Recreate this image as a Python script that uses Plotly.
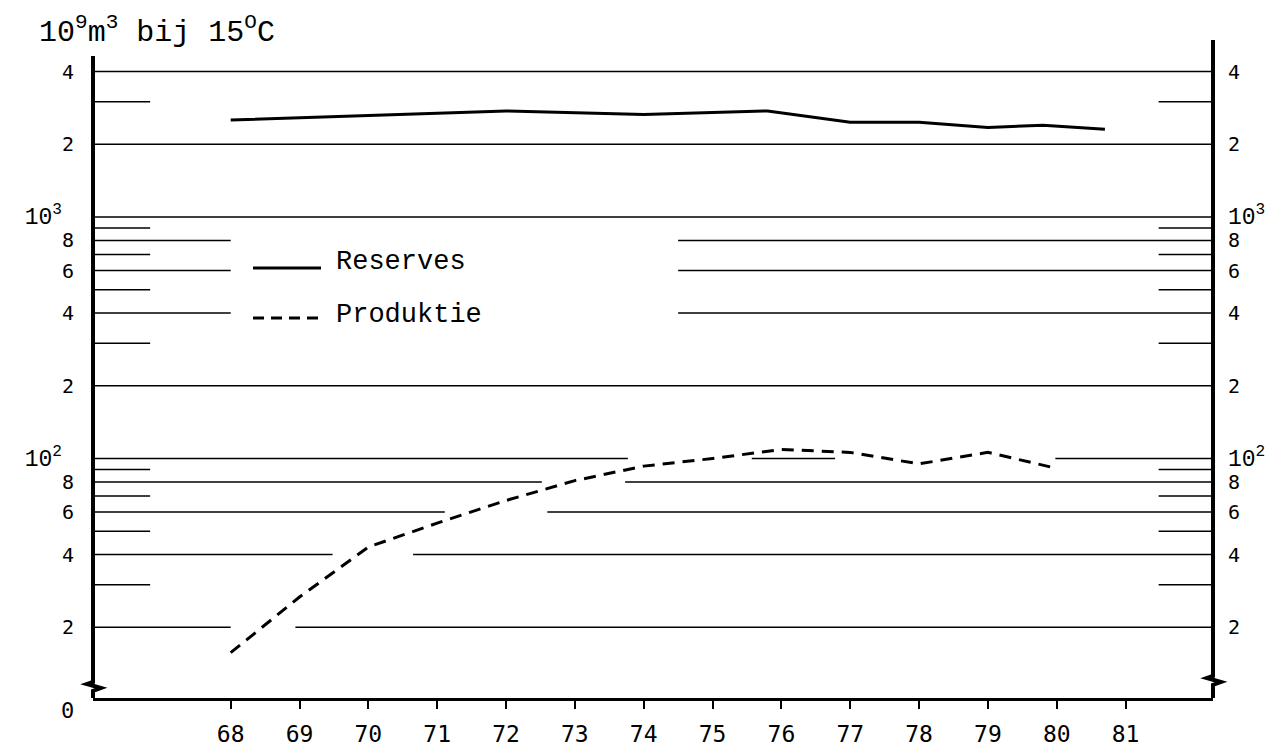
import plotly.graph_objects as go

# ---------------- data ----------------
years_reserves = [68, 72, 74, 75.8, 77, 78, 79, 79.8, 80.7]
reserves = [2520, 2750, 2660, 2750, 2470, 2470, 2350, 2400, 2310]

years_production = [68, 69, 70, 71, 72, 73, 74, 75, 76, 77, 78, 79, 80]
production = [15.7, 26.7, 43, 54, 67, 81, 93, 100, 109, 106, 95, 106, 91]

x_ticks = [68, 69, 70, 71, 72, 73, 74, 75, 76, 77, 78, 79, 80, 81]
y_ticks = [20, 40, 60, 80, 100, 200, 400, 600, 800, 1000, 2000, 4000]
MONO = "Liberation Mono"
DEC = "<span style='font-family:Liberation Mono;font-size:23px'>10<sup>{}</sup></span>"
y_labels_left = ["2", "4", "6", "8", DEC.format(2) + "&nbsp;",
                 "2", "4", "6", "8", DEC.format(3) + "&nbsp;",
                 "2", "4"]
y_labels_right = ["2", "4", "6", "8", DEC.format(2),
                  "2", "4", "6", "8", DEC.format(3),
                  "2", "4"]

# horizontal rule segments (value, [(x0, x1), ...]) in axis units
XL, XR = 66.0, 82.27
full_rules = [4000, 2000, 1000, 200]
short_rules = [3000, 900, 700, 500, 300, 90, 70, 50, 30]
broken_rules = {
    800: [(XL, 68.0), (74.5, XR)],
    600: [(XL, 68.0), (74.5, XR)],
    400: [(XL, 68.0), (74.5, XR)],
    100: [(XL, 73.77), (75.57, 76.78), (79.98, XR)],
    80: [(XL, 72.52), (73.73, XR)],
    60: [(XL, 71.11), (72.6, XR)],
    40: [(XL, 69.48), (70.65, XR)],
    20: [(XL, 68.0), (68.94, XR)],
}

# ---------------- geometry (screen pixels) ----------------
W, H = 1287, 750
SL, SR, ST, SB = 93, 1213, 40, 698          # plot area on screen


def px(x):
    return (x - SL) / (SR - SL)


def py(y):
    return (SB - y) / (SB - ST)


fig = go.Figure()
fig.add_trace(go.Scatter(x=years_reserves, y=reserves, mode="lines",
                         line=dict(color="black", width=3), name="Reserves",
                         showlegend=False, yaxis="y"))
fig.add_trace(go.Scatter(x=years_production, y=production, mode="lines",
                         line=dict(color="black", width=3, dash="12px,8px"),
                         name="Produktie", showlegend=False, yaxis="y2"))

shapes = []
rule_style = dict(color="black", width=1.5)
for v in full_rules:
    shapes.append(dict(type="line", xref="x", yref="y", x0=XL, x1=XR, y0=v, y1=v,
                       line=rule_style, layer="below"))
for v in short_rules:
    for a, b in [(XL, 66.83), (81.48, XR)]:
        shapes.append(dict(type="line", xref="x", yref="y", x0=a, x1=b, y0=v, y1=v,
                           line=rule_style, layer="below"))
for v, segs in broken_rules.items():
    for a, b in segs:
        shapes.append(dict(type="line", xref="x", yref="y", x0=a, x1=b, y0=v, y1=v,
                           line=rule_style, layer="below"))


# vertical axes with break marks
def axis_path(xp, ytop, ybreak):
    pts = [(xp, ytop), (xp, ybreak - 4), (xp - 6, ybreak - 2),
           (xp + 8, ybreak + 2), (xp, ybreak + 5), (xp, SB)]
    return "M " + " L ".join(f"{px(a):.5f},{py(b):.5f}" for a, b in pts)


shapes.append(dict(type="path", xref="paper", yref="paper",
                   path=axis_path(SL, 56, 686),
                   line=dict(color="black", width=4)))
shapes.append(dict(type="path", xref="paper", yref="paper",
                   path=axis_path(SR, 40, 680),
                   line=dict(color="black", width=4)))

# custom legend
shapes.append(dict(type="line", xref="paper", yref="paper",
                   x0=px(253), x1=px(321), y0=py(268), y1=py(268),
                   line=dict(color="black", width=3)))
shapes.append(dict(type="line", xref="paper", yref="paper",
                   x0=px(253), x1=px(323), y0=py(318), y1=py(318),
                   line=dict(color="black", width=3, dash="11px,7px")))

annotations = [
    dict(text="Reserves", xref="paper", yref="paper", x=px(334), y=py(262),
         xanchor="left", yanchor="middle", showarrow=False,
         font=dict(family=MONO, size=27, color="black")),
    dict(text="Produktie", xref="paper", yref="paper", x=px(334), y=py(315),
         xanchor="left", yanchor="middle", showarrow=False,
         font=dict(family=MONO, size=27, color="black")),
    dict(text="10<sup>9</sup>m<sup>3</sup> bij 15<sup>O</sup>C", xref="paper",
         yref="paper", x=px(37), y=py(30), xanchor="left", yanchor="middle",
         showarrow=False, font=dict(family=MONO, size=30, color="black")),
    dict(text="0", xref="paper", yref="paper", x=px(76), y=py(710),
         xanchor="right", yanchor="middle", showarrow=False,
         font=dict(family="DejaVu Sans Mono", size=22, color="black")),
]

yrange = [1.0083, 3.7329]
yfont = dict(family="DejaVu Sans Mono", size=20, color="black")

fig.update_layout(
    width=W, height=H,
    margin=dict(l=SL, r=W - SR, t=ST, b=H - SB, autoexpand=False),
    paper_bgcolor="white", plot_bgcolor="white",
    showlegend=False,
    shapes=shapes,
    annotations=annotations,
    xaxis=dict(range=[XL, XR], tickmode="array", tickvals=x_ticks,
               ticktext=[str(t) for t in x_ticks], ticks="outside", ticklen=8,
               tickwidth=2, tickcolor="black", showline=True, linewidth=3,
               linecolor="black", showgrid=False, zeroline=False,
               automargin=False, ticklabelstandoff=5,
               tickfont=dict(family="DejaVu Sans Mono", size=23, color="black")),
    yaxis=dict(type="log", range=yrange, tickmode="array", tickvals=y_ticks,
               ticktext=y_labels_left, ticks="", showline=False, showgrid=False,
               zeroline=False, tickfont=yfont, ticklabelstandoff=18,
               automargin=False),
    yaxis2=dict(type="log", range=yrange, overlaying="y", side="right",
                tickmode="array", tickvals=y_ticks, ticktext=y_labels_right,
                ticks="", showline=False, showgrid=False, zeroline=False,
                tickfont=yfont, ticklabelstandoff=14, automargin=False),
)

fig.write_html(
    "out.html",
    config={"displayModeBar": False},
    post_script="document.body.style.margin='0';document.body.style.overflow='hidden';",
)
